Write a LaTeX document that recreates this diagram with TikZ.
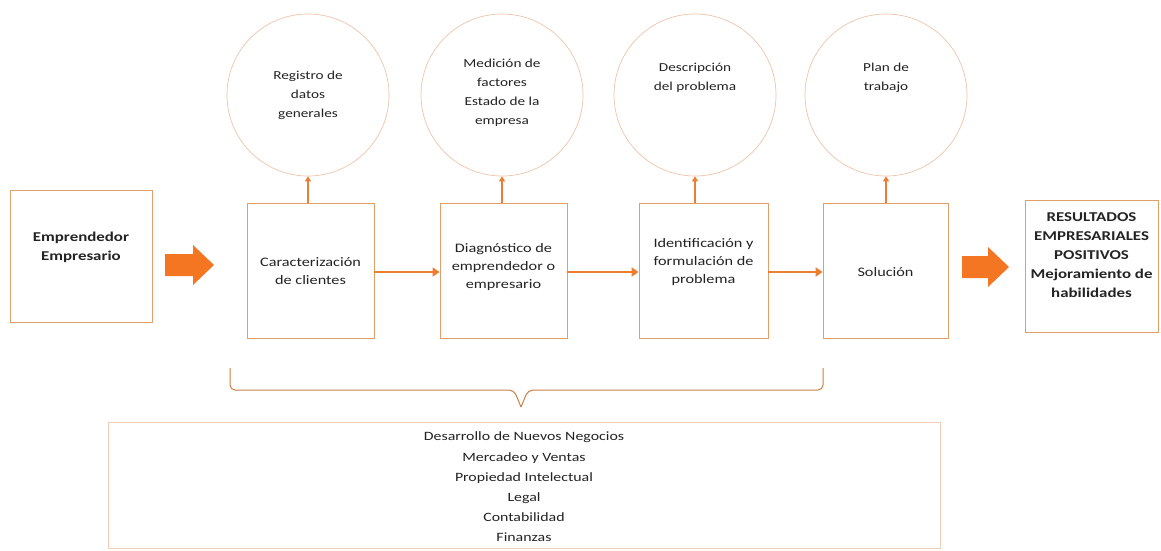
\documentclass[tikz,border=0pt]{standalone}
\usepackage{fontspec}
\setmainfont{Carlito}[FakeStretch=1.25]
\usetikzlibrary{arrows.meta}
\definecolor{orline}{RGB}{222,160,105}
\definecolor{orcirc}{RGB}{236,196,170}
\definecolor{orbot}{RGB}{240,205,180}
\definecolor{orarrow}{RGB}{237,125,49}
\definecolor{orbrace}{RGB}{200,128,72}
\definecolor{orbig}{RGB}{245,118,34}
\definecolor{txt}{RGB}{35,35,35}
\tikzset{
  boxnode/.style={draw=orline, line width=0.8pt, rectangle, inner sep=0pt},
  circnode/.style={draw=orcirc, line width=0.7pt, circle, inner sep=0pt, minimum size=162pt},
  boxtext/.style={align=center, text=txt, font=\fontsize{13}{18}\selectfont},
  boldtext/.style={align=center, text=txt, font=\bfseries\fontsize{13.5}{19}\selectfont},
  circtext/.style={align=center, text=txt, font=\fontsize{12.2}{19}\selectfont},
  flow/.style={draw=orarrow, line width=2.6pt, -{Triangle[length=7pt,width=9pt]}},
  upflow/.style={draw=orarrow, line width=1.6pt, -{Triangle[length=5pt,width=6pt]}},
  bigarrow/.style={fill=orbig, draw=none},
  brace/.style={draw=orbrace, line width=1pt, rounded corners=5pt}
}
\begin{document}
\begin{tikzpicture}[x=1pt,y=-1pt]
\useasboundingbox (0,0) rectangle (1161,550);
% left box
\node[boxnode, minimum width=142pt, minimum height=132pt] (emp) at (81,256) {};
\node[boldtext] (empt) at (81,247) {Emprendedor\\Empresario};
% process boxes
\node[boxnode, minimum width=127pt, minimum height=135pt] (b1) at (310.5,270.5) {};
\node[boxnode, minimum width=127pt, minimum height=135pt] (b2) at (503.5,270.5) {};
\node[boxnode, minimum width=129pt, minimum height=135pt] (b3) at (703.5,270.5) {};
\node[boxnode, minimum width=125pt, minimum height=135pt] (b4) at (885.5,270.5) {};
\node[boxtext] (b1t) at (310.5,271) {Caracterización\\de clientes};
\node[boxtext] (b2t) at (503.5,267) {Diagnóstico de\\emprendedor o\\empresario};
\node[boxtext] (b3t) at (703.5,262) {Identificación y\\formulación de\\problema};
\node[boxtext] (b4t) at (885.5,272) {Solución};
% result box
\node[boxnode, minimum width=133pt, minimum height=132pt] (res) at (1091.5,266) {};
\node[boldtext] (rest) at (1091.5,255) {RESULTADOS\\EMPRESARIALES\\POSITIVOS\\Mejoramiento de\\habilidades};
% circles
\node[circnode] (c1) at (308,95) {};
\node[circnode] (c2) at (502,95) {};
\node[circnode] (c3) at (695,95) {};
\node[circnode] (c4) at (886,95) {};
\node[circtext] (c1t) at (308,95) {Registro de\\datos\\generales};
\node[circtext] (c2t) at (502,93) {Medición de\\factores\\Estado de la\\empresa};
\node[circtext] (c3t) at (695,78) {Descripción\\del problema};
\node[circtext] (c4t) at (886,78) {Plan de\\trabajo};
% vertical arrows
\draw[upflow] (b1.north -| c1.south) -- (c1.south);
\draw[upflow] (b2.north -| c2.south) -- (c2.south);
\draw[upflow] (b3.north -| c3.south) -- (c3.south);
\draw[upflow] (b4.north -| c4.south) -- (c4.south);
% horizontal arrows
\draw[flow] (b1.east |- 0,272) -- (b2.west |- 0,272);
\draw[flow] (b2.east |- 0,272) -- (b3.west |- 0,272);
\draw[flow] (b3.east |- 0,272) -- (b4.west |- 0,272);
% big arrows
\fill[bigarrow] (165,254) -- (193,254) -- (193,245) -- (214,265) -- (193,285) -- (193,276) -- (165,276) -- cycle;
\fill[bigarrow] (962,256) -- (988,256) -- (988,247) -- (1009,267) -- (988,287) -- (988,278) -- (962,278) -- cycle;
% brace
\coordinate (bl) at (230,368);
\coordinate (br) at (823,368);
\coordinate (bt) at (521,407);
\draw[brace] (bl) |- (514,390) -- (bt);
\draw[brace] (br) |- (528,390) -- (bt);
% bottom box
\node[boxnode, draw=orbot, minimum width=832pt, minimum height=126pt] (bot) at (524,485) {};
\node[align=center, text=txt, font=\fontsize{12.7}{20.2}\selectfont] (bott) at (524,487) {Desarrollo de Nuevos Negocios\\Mercadeo y Ventas\\Propiedad Intelectual\\Legal\\Contabilidad\\Finanzas};
\end{tikzpicture}
\end{document}
